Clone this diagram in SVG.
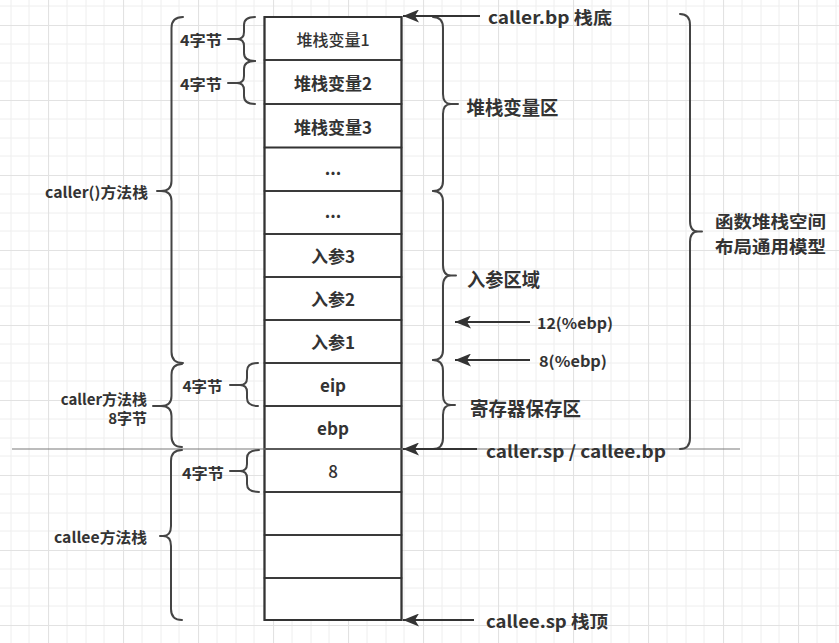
<svg xmlns="http://www.w3.org/2000/svg" width="839" height="643" viewBox="0 0 839 643">
<defs>
<pattern id="grid" x="48" y="25" width="75" height="75" patternUnits="userSpaceOnUse">
<path d="M0,19 H75 M0,38 H75 M0,56 H75 M19,0 V75 M38,0 V75 M56,0 V75" stroke="#eeeeee" stroke-width="1" fill="none"/>
<path d="M0,0.5 H75 M0.5,0 V75" stroke="#e2e2e2" stroke-width="1.2" fill="none"/>
</pattern>
<marker id="arr" markerUnits="userSpaceOnUse" markerWidth="17" markerHeight="13" refX="16" refY="6.5" orient="auto">
<path d="M0,0 L16,6.5 L0,13 L4,6.5 z" fill="#333"/>
</marker>
</defs>
<style>
.cell{fill:none;stroke:#333;stroke-width:1.6}
.br{fill:none;stroke:#444;stroke-width:2;stroke-linecap:round;stroke-linejoin:round}
.ar{stroke:#333;stroke-width:2;fill:none}
text{font-family:"Noto Sans CJK SC","Noto Sans",sans-serif;fill:#333;dominant-baseline:central}
.c{text-anchor:middle;font-size:17px;font-weight:bold}
.s{font-size:15px;font-weight:bold}
.b{font-size:17px;font-weight:bold}
.l{font-size:19px;font-weight:bold}
</style>
<rect width="839" height="643" fill="#fff"/>
<rect width="839" height="643" fill="url(#grid)"/>

<g id="stack">
<rect x="264.5" y="17" width="137" height="603" fill="#fff"/>
<g id="cell-var1"><rect class="cell" x="264.5" y="17" width="137" height="43"/><text class="c" x="333" y="39" style="font-weight:500;font-size:16px">堆栈变量1</text></g>
<g id="cell-var2"><rect class="cell" x="264.5" y="60" width="137" height="44"/><text class="c" x="333" y="82.5">堆栈变量2</text></g>
<g id="cell-var3"><rect class="cell" x="264.5" y="104" width="137" height="43.5"/><text class="c" x="333" y="126">堆栈变量3</text></g>
<g id="cell-dots1"><rect class="cell" x="264.5" y="147.5" width="137" height="43.5"/><text class="c" x="333" y="175" style="dominant-baseline:alphabetic">...</text></g>
<g id="cell-dots2"><rect class="cell" x="264.5" y="191" width="137" height="43"/><text class="c" x="333" y="218" style="dominant-baseline:alphabetic">...</text></g>
<g id="cell-arg3"><rect class="cell" x="264.5" y="234" width="137" height="43"/><text class="c" x="333" y="255">入参3</text></g>
<g id="cell-arg2"><rect class="cell" x="264.5" y="277" width="137" height="43"/><text class="c" x="333" y="298.5">入参2</text></g>
<g id="cell-arg1"><rect class="cell" x="264.5" y="320" width="137" height="43"/><text class="c" x="333" y="341.5">入参1</text></g>
<g id="cell-eip"><rect class="cell" x="264.5" y="363" width="137" height="43"/><text class="c" x="333" y="384">eip</text></g>
<g id="cell-ebp"><rect class="cell" x="264.5" y="406" width="137" height="43"/><text class="c" x="333" y="427.5">ebp</text></g>
<g id="cell-8"><rect class="cell" x="264.5" y="449" width="137" height="43"/><text class="c" x="333" y="470.5" style="font-weight:500">8</text></g>
<g id="cell-e1"><rect class="cell" x="264.5" y="492" width="137" height="43"/></g>
<g id="cell-e2"><rect class="cell" x="264.5" y="535" width="137" height="43"/></g>
<g id="cell-e3"><rect class="cell" x="264.5" y="578" width="137" height="42"/></g>
<rect x="264.5" y="17" width="137" height="603" fill="none" stroke="#333" stroke-width="2"/>
</g>

<g id="divider"><line x1="12" y1="449" x2="740" y2="449" stroke="#7a7a7a" stroke-width="1.2"/></g>

<g id="braces">
<g id="brace-4b-1"><path class="br" d="M255,17 Q244,17 244,25 V32 Q244,39 237,39 H228 M237,39 Q244,39 244,46 V53 Q244,61 255,61"/><text class="s" x="180" y="39" textLength="42" lengthAdjust="spacingAndGlyphs">4字节</text></g>
<g id="brace-4b-2"><path class="br" d="M255,61 Q244,61 244,69 V76 Q244,83 237,83 H228 M237,83 Q244,83 244,90 V96 Q244,104 255,104"/><text class="s" x="180" y="83" textLength="42" lengthAdjust="spacingAndGlyphs">4字节</text></g>
<g id="brace-4b-3"><path class="br" d="M258,363 Q247,363 247,371 V378 Q247,385 240,385 H230 M240,385 Q247,385 247,392 V398 Q247,406 258,406"/><text class="s" x="182.5" y="385" textLength="40" lengthAdjust="spacingAndGlyphs">4字节</text></g>
<g id="brace-4b-4"><path class="br" d="M259,450 Q247,450 247,458 V464 Q247,471 240,471 H230 M240,471 Q247,471 247,478 V484 Q247,492 259,492"/><text class="s" x="182" y="472" textLength="42" lengthAdjust="spacingAndGlyphs">4字节</text></g>
<g id="brace-caller"><path class="br" d="M183,17 Q171.5,17 171.5,28 V181 Q171.5,191 161,191 H157 M161,191 Q171.5,191 171.5,201 V352 Q171.5,363 183,363"/><text class="s" x="148" y="191" text-anchor="end" textLength="103" lengthAdjust="spacingAndGlyphs">caller()方法栈</text></g>
<g id="brace-caller8"><path class="br" d="M182,364 Q171.5,364 171.5,375 V396 Q171.5,406 161,406 H153 M161,406 Q171.5,406 171.5,416 V436 Q171.5,447 182,447"/><text class="s" text-anchor="end"><tspan x="147" y="398">caller方法栈</tspan><tspan x="147" y="417">8字节</tspan></text></g>
<g id="brace-callee"><path class="br" d="M182,450 Q171,450 171,461 V526 Q171,536 163,536 H160 M163,536 Q171,536 171,546 V609 Q171,620 182,620"/><text class="s" x="147" y="536" text-anchor="end" textLength="93" lengthAdjust="spacingAndGlyphs">callee方法栈</text></g>
<g id="brace-vars"><path class="br" d="M433,17 Q443,17 443,28 V94 Q443,104 451,104 H458 M451,104 Q443,104 443,114 V181 Q443,191 433,191"/><text class="l" x="466.5" y="106" textLength="92" lengthAdjust="spacingAndGlyphs">堆栈变量区</text></g>
<g id="brace-args"><path class="br" d="M433,191 Q443,191 443,202 V265 Q443,275.5 451,275.5 H456 M451,275.5 Q443,275.5 443,286 V350 Q443,360 433,360"/><text class="l" x="467" y="278" textLength="73" lengthAdjust="spacingAndGlyphs">入参区域</text></g>
<g id="brace-regs"><path class="br" d="M433,360 Q443,360 443,371 V395 Q443,405 451,405 H455 M451,405 Q443,405 443,415 V438 Q443,449 433,449"/><text class="l" x="470" y="407" textLength="111" lengthAdjust="spacingAndGlyphs">寄存器保存区</text></g>
<g id="brace-model"><path class="br" d="M680,14 Q690,14 690,25 V221 Q690,231.5 698,231.5 H702 M698,231.5 Q690,231.5 690,242 V438 Q690,449 680,449"/><text style="font-size:17px;font-weight:bold"><tspan x="715" y="220" textLength="111" lengthAdjust="spacingAndGlyphs">函数堆栈空间</tspan><tspan x="715" y="244.5" textLength="111" lengthAdjust="spacingAndGlyphs">布局通用模型</tspan></text></g>
</g>

<g id="connectors">
<line class="ar" x1="480" y1="16" x2="403" y2="16" marker-end="url(#arr)"/>
<line class="ar" x1="530" y1="322" x2="455" y2="322" marker-end="url(#arr)"/>
<line class="ar" x1="530" y1="360" x2="455" y2="360" marker-end="url(#arr)"/>
<line class="ar" x1="477" y1="449" x2="403" y2="449" marker-end="url(#arr)"/>
<line class="ar" x1="474" y1="620" x2="403" y2="620" marker-end="url(#arr)"/>
</g>

<g id="labels">
<text class="b" x="488" y="16" textLength="124" lengthAdjust="spacingAndGlyphs">caller.bp 栈底</text>
<text class="s" x="537" y="322" textLength="76" lengthAdjust="spacingAndGlyphs">12(%ebp)</text>
<text class="s" x="539" y="360" textLength="68" lengthAdjust="spacingAndGlyphs">8(%ebp)</text>
<text class="b" x="486" y="450.5" textLength="180" lengthAdjust="spacingAndGlyphs">caller.sp / callee.bp</text>
<text class="b" x="486" y="620" textLength="122" lengthAdjust="spacingAndGlyphs">callee.sp 栈顶</text>
</g>
</svg>
